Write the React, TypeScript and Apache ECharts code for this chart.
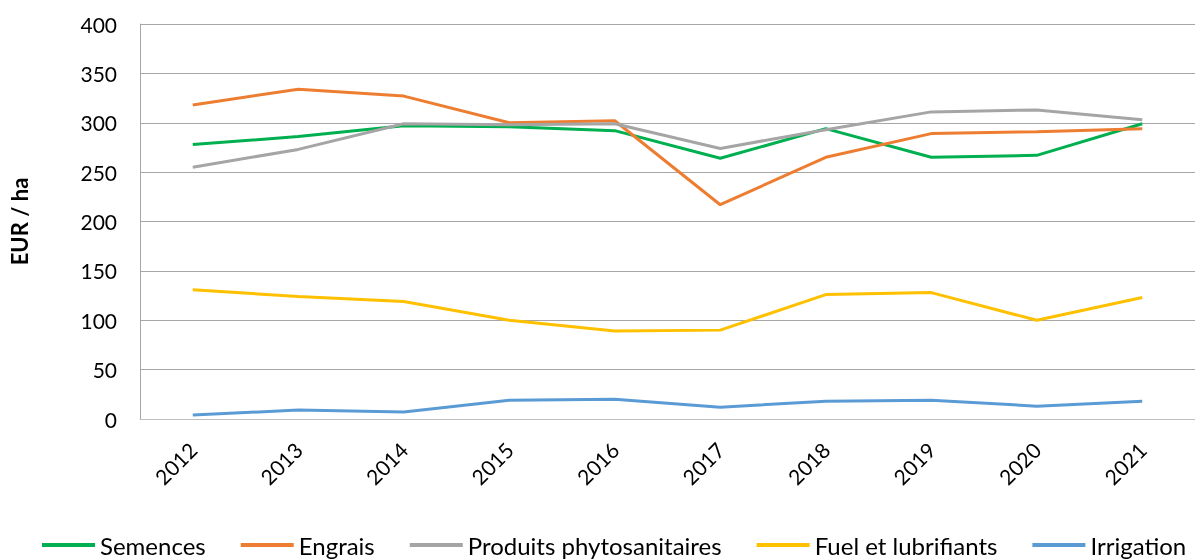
import React, { useEffect, useRef } from "react";
import * as echarts from "echarts";

const years = ["2012", "2013", "2014", "2015", "2016", "2017", "2018", "2019", "2020", "2021"];
const semences = [278, 286, 297, 296, 292, 264, 294, 265, 267, 299];
const engrais = [318, 334, 327, 300, 302, 217, 265, 289, 291, 294];
const produits = [255, 273, 299, 298, 299, 274, 293, 311, 313, 303];
const fuel = [131, 124, 119, 100, 89, 90, 126, 128, 100, 123];
const irrigation = [4, 9, 7, 19, 20, 12, 18, 19, 13, 18];

const seriesNames = ["Semences", "Engrais", "Produits phytosanitaires", "Fuel et lubrifiants", "Irrigation"];
const seriesColors = ["#00B050", "#ED7D31", "#A5A5A5", "#FFC000", "#5B9BD5"];
const seriesData = [semences, engrais, produits, fuel, irrigation];

const FONT = "Lato";

export default function App() {
  const ref = useRef<HTMLDivElement>(null);
  useEffect(() => {
    if (!ref.current) return;
    const chart = echarts.init(ref.current, null, { renderer: "svg" });
    chart.setOption({
      animation: false,
      textStyle: { fontFamily: FONT },
      grid: { left: 136, right: 0, top: 24, bottom: 141, containLabel: false },
      legend: {
        left: 37,
        top: 528,
        width: 1500,
        icon: "rect",
        itemWidth: 53,
        itemHeight: 4,
        itemGap: 35,
        textStyle: { fontFamily: FONT, fontSize: 24, color: "#000" },
        data: seriesNames,
      },
      xAxis: {
        type: "category",
        data: years,
        boundaryGap: true,
        axisLine: { lineStyle: { color: "#BFBFBF", width: 1 } },
        axisTick: { show: false },
        axisLabel: { rotate: 45, margin: 27, color: "#000", fontSize: 21, fontFamily: FONT },
      },
      yAxis: {
        type: "value",
        min: 0,
        max: 400,
        interval: 50,
        name: "EUR / ha",
        nameLocation: "middle",
        nameRotate: 90,
        nameGap: 110,
        nameTextStyle: { fontWeight: "bold", fontSize: 22, color: "#000", fontFamily: FONT },
        axisLine: { show: true, lineStyle: { color: "#A6A6A6", width: 1 } },
        axisTick: { show: false },
        axisLabel: { margin: 23, color: "#000", fontSize: 21, fontFamily: FONT },
        splitLine: { lineStyle: { color: "#A6A6A6", width: 1 } },
      },
      series: seriesNames.map((n, i) => ({
        name: n,
        type: "line",
        data: seriesData[i],
        symbol: "none",
        color: seriesColors[i],
        itemStyle: { color: seriesColors[i] },
        lineStyle: { width: 3, color: seriesColors[i] },
      })),
    });
    return () => chart.dispose();
  }, []);
  return <div ref={ref} style={{ position: "fixed", left: 0, top: 0, width: 1195, height: 560 }} />;
}
